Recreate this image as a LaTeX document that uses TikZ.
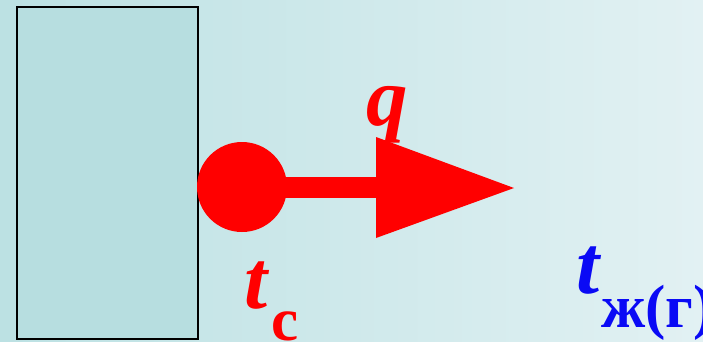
\documentclass[tikz,border=0pt]{standalone}
\usepackage{fontspec}
\setmainfont{Liberation Serif}
\definecolor{bgL}{HTML}{BCE1E3}
\definecolor{bgR}{HTML}{E2F1F3}
\definecolor{wall}{HTML}{B7DEE0}
\definecolor{tblue}{HTML}{0A0AF5}
\tikzset{
  lbl/.style={inner sep=0pt, anchor=base west},
  big/.style={font=\fontsize{83}{83}\selectfont\bfseries\itshape},
  sub/.style={font=\fontsize{61}{61}\selectfont\bfseries},
}
\begin{document}
\begin{tikzpicture}[x=1pt,y=-1pt]
\useasboundingbox (0,0) rectangle (703,341);
\shade[left color=bgL, right color=bgR] (0,0) rectangle (703,341);
\node[draw=black, line width=2pt, fill=wall, minimum width=181pt, minimum height=332pt, inner sep=0pt, anchor=north west] (wall) at (16,6) {};
\node[circle, fill=red, minimum size=90pt, inner sep=0pt] (dot) at (242,187) {};
\coordinate (tb) at (376,137);
\coordinate (bb) at (376,238);
\coordinate (tip) at (514,188);
\fill[red] (dot.center) ++(0,-10.5) rectangle (380,198);
\fill[red] (tb) -- (tip) -- (bb) -- cycle;
\node[lbl, big, text=red] (q) at (366,125) {q};
\node[lbl, big, text=red] (t1) at (244,308) {t};
\node[lbl, sub, text=red] (c1) at (271,340) {с};
\node[lbl, big, text=tblue] (t2) at (576,293) {t};
\node[lbl, sub, text=tblue] (c2) at (601,327) {ж(г)};
\end{tikzpicture}
\end{document}
